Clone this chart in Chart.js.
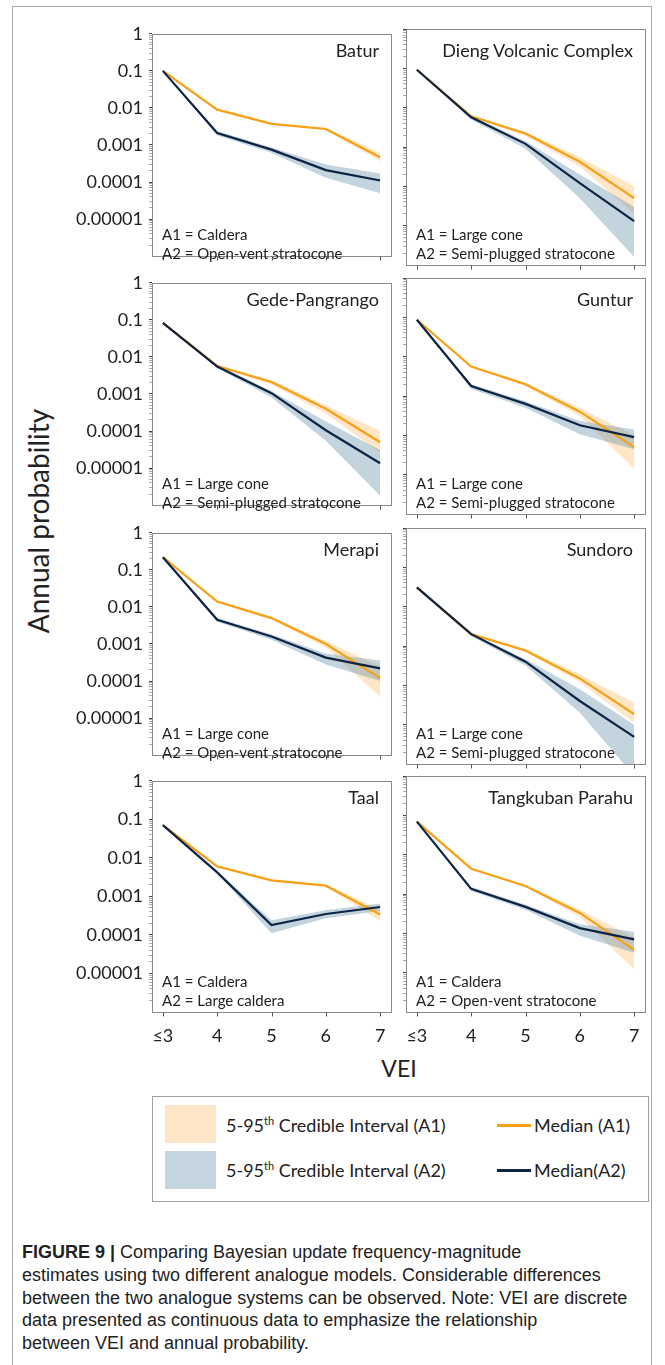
<!DOCTYPE html>
<html>
<head>
<meta charset="utf-8">
<script src="https://cdn.jsdelivr.net/npm/chart.js@4.4.1/dist/chart.umd.min.js"></script>
<style>
  body { margin: 0; background: #fff; }
  #page { position: relative; width: 665px; height: 1365px; overflow: hidden; font-family: Lato, "Open Sans", sans-serif; color: #222; }
  #frame { position: absolute; left: 12px; top: 6px; width: 640px; height: 1400px; border: 1px solid #a8a8a8; box-sizing: border-box; }
  canvas { position: absolute; }
  .title { position: absolute; font-size: 18px; text-align: right; white-space: nowrap; line-height: 1; }
  .note { position: absolute; font-size: 15px; white-space: nowrap; line-height: 19px; }
  #ytitle { position: absolute; left: 38px; top: 521px; transform: translate(-50%, -50%) rotate(-90deg); font-size: 28px; white-space: nowrap; }
  #xtitle { position: absolute; left: 399px; top: 1068px; transform: translate(-50%, -50%); font-size: 23px; }
  #legend { position: absolute; left: 152px; top: 1096px; width: 497px; height: 106px; border: 1px solid #a0a0a0; box-sizing: border-box; }
  .swatch { position: absolute; left: 12px; width: 51px; height: 38px; }
  .ltext { position: absolute; font-size: 18px; white-space: nowrap; transform: translateY(-50%); }
  .ltext sup { font-size: 11px; }
  .lline { position: absolute; left: 344px; width: 34px; height: 3px; }
  #caption { position: absolute; left: 22px; top: 1241px; font-family: "Liberation Sans", Arial, sans-serif; font-size: 18px; line-height: 22.8px; color: #222; white-space: nowrap; }
  #caption b { font-weight: bold; }
</style>
</head>
<body>
<div id="page">
  <div id="frame"></div>
  <div id="ytitle">Annual probability</div>
  <div id="xtitle">VEI</div>
  <div id="legend">
    <div class="swatch" style="top:8px;background:#fde6c7"></div>
    <div class="swatch" style="top:54px;background:#c5d5df"></div>
    <div class="ltext" style="left:73px;top:28px">5-95<sup>th</sup> Credible Interval (A1)</div>
    <div class="ltext" style="left:73px;top:73px">5-95<sup>th</sup> Credible Interval (A2)</div>
    <div class="lline" style="top:27px;background:#f7a014"></div>
    <div class="lline" style="top:72px;background:#0d2444"></div>
    <div class="ltext" style="left:381px;top:28px">Median (A1)</div>
    <div class="ltext" style="left:381px;top:73px">Median(A2)</div>
  </div>
  <div id="caption"><b>FIGURE 9 |</b> Comparing Bayesian update frequency-magnitude<br>estimates using two different analogue models. Considerable differences<br>between the two analogue systems can be observed. Note: VEI are discrete<br>data presented as continuous data to emphasize the relationship<br>between VEI and annual probability.</div>
</div>

<script>
'use strict';

// AXES
const vei = [3, 4, 5, 6, 7];
const veiLabels = ['≤3', '4', '5', '6', '7'];
const probTicks = [1, 0.1, 0.01, 0.001, 0.0001, 0.00001];
const probLabels = ['1', '0.1', '0.01', '0.001', '0.0001', '0.00001'];

// BATUR
const baturA1 = [0.1, 0.009, 0.0037, 0.0027, 0.00047];
const baturA1Lo = [0.097, 0.0085, 0.0035, 0.0025, 0.00036];
const baturA1Hi = [0.103, 0.0095, 0.0039, 0.0029, 0.00062];
const baturA2 = [0.1, 0.0021, 0.00075, 0.00021, 0.00011];
const baturA2Lo = [0.097, 0.0018, 0.00062, 0.00013, 0.00005];
const baturA2Hi = [0.103, 0.0024, 0.00085, 0.0003, 0.00017];

// DIENG VOLCANIC COMPLEX
const diengA1 = [0.092, 0.006, 0.0022, 0.00042, 0.00005];
const diengA1Lo = [0.089, 0.0057, 0.0019, 0.00032, 0.00002];
const diengA1Hi = [0.095, 0.0063, 0.0024, 0.00056, 0.0001];
const diengA2 = [0.092, 0.0057, 0.0012, 0.00012, 0.000013];
const diengA2Lo = [0.089, 0.005, 0.0009, 0.00005, 0.0000016];
const diengA2Hi = [0.095, 0.0062, 0.0014, 0.0002, 0.00003];

// GEDE-PANGRANGO
const gedeA1 = [0.083, 0.0057, 0.0021, 0.0004, 0.00005];
const gedeA1Lo = [0.08, 0.0054, 0.0018, 0.0003, 0.000026];
const gedeA1Hi = [0.086, 0.006, 0.0024, 0.0005, 0.0001];
const gedeA2 = [0.083, 0.0055, 0.00105, 0.000105, 0.0000135];
const gedeA2Lo = [0.08, 0.005, 0.0008, 0.000055, 0.0000018];
const gedeA2Hi = [0.086, 0.006, 0.0012, 0.00018, 0.000031];

// GUNTUR
const gunturA1 = [0.087, 0.0056, 0.002, 0.0004, 0.00005];
const gunturA1Lo = [0.084, 0.0053, 0.0018, 0.00031, 0.000014];
const gunturA1Hi = [0.09, 0.0059, 0.0022, 0.0005, 0.0001];
const gunturA2 = [0.087, 0.0018, 0.00063, 0.00018, 0.00009];
const gunturA2Lo = [0.084, 0.0015, 0.0005, 0.000107, 0.000044];
const gunturA2Hi = [0.09, 0.002, 0.00074, 0.00023, 0.00014];

// MERAPI
const merapiA1 = [0.22, 0.014, 0.005, 0.001, 0.00012];
const merapiA1Lo = [0.21, 0.013, 0.0046, 0.0008, 0.000038];
const merapiA1Hi = [0.23, 0.015, 0.0054, 0.0012, 0.00025];
const merapiA2 = [0.22, 0.0045, 0.0016, 0.00043, 0.00022];
const merapiA2Lo = [0.21, 0.004, 0.0013, 0.00028, 0.0001];
const merapiA2Hi = [0.23, 0.005, 0.0018, 0.00055, 0.00036];

// SUNDORO
const sundoroA1 = [0.031, 0.002, 0.00077, 0.00015, 0.0000185];
const sundoroA1Lo = [0.03, 0.0019, 0.0007, 0.00012, 0.000011];
const sundoroA1Hi = [0.032, 0.0021, 0.00085, 0.00019, 0.000036];
const sundoroA2 = [0.031, 0.002, 0.0004, 0.00004, 0.0000049];
const sundoroA2Lo = [0.03, 0.0018, 0.00032, 0.00002, 0.0000005];
const sundoroA2Hi = [0.032, 0.0021, 0.00046, 0.00008, 0.00001];

// TAAL
const taalA1 = [0.071, 0.006, 0.0026, 0.0019, 0.00034];
const taalA1Lo = [0.069, 0.0058, 0.0025, 0.0018, 0.00023];
const taalA1Hi = [0.073, 0.0062, 0.0027, 0.002, 0.00046];
const taalA2 = [0.071, 0.0042, 0.00018, 0.00035, 0.00053];
const taalA2Lo = [0.069, 0.0039, 0.00011, 0.00027, 0.00042];
const taalA2Hi = [0.073, 0.0045, 0.00024, 0.00044, 0.00065];

// TANGKUBAN PARAHU
const tangkubanA1 = [0.069, 0.0044, 0.0016, 0.00033, 0.000038];
const tangkubanA1Lo = [0.067, 0.0042, 0.0015, 0.00026, 0.000012];
const tangkubanA1Hi = [0.071, 0.0046, 0.0017, 0.0004, 0.00008];
const tangkubanA2 = [0.069, 0.00135, 0.00047, 0.000136, 0.00007];
const tangkubanA2Lo = [0.067, 0.0012, 0.0004, 0.000087, 0.000032];
const tangkubanA2Hi = [0.071, 0.0015, 0.00053, 0.00017, 0.00011];

// PANELS IN READING ORDER (LEFT TO RIGHT, TOP TO BOTTOM)
const panels = [
  { name: 'Batur', a1: 'Caldera', a2: 'Open-vent stratocone', med1: baturA1, lo1: baturA1Lo, hi1: baturA1Hi, med2: baturA2, lo2: baturA2Lo, hi2: baturA2Hi },
  { name: 'Dieng Volcanic Complex', a1: 'Large cone', a2: 'Semi-plugged stratocone', med1: diengA1, lo1: diengA1Lo, hi1: diengA1Hi, med2: diengA2, lo2: diengA2Lo, hi2: diengA2Hi },
  { name: 'Gede-Pangrango', a1: 'Large cone', a2: 'Semi-plugged stratocone', med1: gedeA1, lo1: gedeA1Lo, hi1: gedeA1Hi, med2: gedeA2, lo2: gedeA2Lo, hi2: gedeA2Hi },
  { name: 'Guntur', a1: 'Large cone', a2: 'Semi-plugged stratocone', med1: gunturA1, lo1: gunturA1Lo, hi1: gunturA1Hi, med2: gunturA2, lo2: gunturA2Lo, hi2: gunturA2Hi },
  { name: 'Merapi', a1: 'Large cone', a2: 'Open-vent stratocone', med1: merapiA1, lo1: merapiA1Lo, hi1: merapiA1Hi, med2: merapiA2, lo2: merapiA2Lo, hi2: merapiA2Hi },
  { name: 'Sundoro', a1: 'Large cone', a2: 'Semi-plugged stratocone', med1: sundoroA1, lo1: sundoroA1Lo, hi1: sundoroA1Hi, med2: sundoroA2, lo2: sundoroA2Lo, hi2: sundoroA2Hi },
  { name: 'Taal', a1: 'Caldera', a2: 'Large caldera', med1: taalA1, lo1: taalA1Lo, hi1: taalA1Hi, med2: taalA2, lo2: taalA2Lo, hi2: taalA2Hi },
  { name: 'Tangkuban Parahu', a1: 'Caldera', a2: 'Open-vent stratocone', med1: tangkubanA1, lo1: tangkubanA1Lo, hi1: tangkubanA1Hi, med2: tangkubanA2, lo2: tangkubanA2Lo, hi2: tangkubanA2Hi },
];

// GRID GEOMETRY
const colLeft = [152, 406];
const rowTop = [29, 278, 528, 776];
const PANEL_W = 239;
const PANEL_H = 236;
const PAD_TOP = 12;

const ORANGE = '#f7a014';
const NAVY = '#0d2444';
const BAND_A1 = 'rgba(252, 196, 120, 0.42)';
const BAND_A2 = 'rgba(112, 152, 178, 0.42)';
const INK = '#222';

// MINOR LOG TICKS BETWEEN THE LABELLED DECADES
const minorTicks = [];
for (let e = -6; e < 0; e++) {
  for (let k = 2; k <= 9; k++) minorTicks.push(k * Math.pow(10, e));
}

// BOX AROUND EACH PLOT AREA PLUS THE SHORT VEI TICKS HANGING BELOW IT
const panelFrame = {
  id: 'panelFrame',
  afterDraw(chart) {
    const { ctx, chartArea: a } = chart;
    const xScale = chart.scales.x;
    const bottom = Math.round(a.bottom) + 0.5;
    ctx.save();
    ctx.strokeStyle = '#8a8a8a';
    ctx.lineWidth = 1;
    ctx.strokeRect(Math.round(a.left) + 0.5, Math.round(a.top) + 0.5, Math.round(a.width), Math.round(a.height));
    ctx.strokeStyle = '#555';
    ctx.beginPath();
    vei.forEach((v) => {
      const px = Math.round(xScale.getPixelForValue(v)) + 0.5;
      ctx.moveTo(px, bottom);
      ctx.lineTo(px, bottom + 4);
    });
    ctx.stroke();
    ctx.restore();
  },
};

function pts(arr) {
  return vei.map((x, i) => ({ x, y: arr[i] }));
}

function band(arr, color, order, fill) {
  return { data: pts(arr), borderColor: 'transparent', borderWidth: 0, backgroundColor: color, fill: fill, order: order };
}

function createPanel(p, idx) {
  const col = idx % 2;
  const row = Math.floor(idx / 2);
  const yW = col === 0 ? 80 : 8;
  const xH = row === 3 ? 34 : 8;
  const left = colLeft[col];
  const top = rowTop[row];
  const page = document.querySelector('#page');

  const canvas = document.createElement('canvas');
  canvas.width = yW + PANEL_W + 2;
  canvas.height = PAD_TOP + PANEL_H + xH;
  canvas.style.left = left - yW + 'px';
  canvas.style.top = top - PAD_TOP + 'px';
  page.appendChild(canvas);

  new Chart(canvas, {
    type: 'line',
    data: {
      datasets: [
        band(p.lo1, 'transparent', 5, false),
        band(p.hi1, BAND_A1, 4, '-1'),
        band(p.lo2, 'transparent', 3, false),
        band(p.hi2, BAND_A2, 2, '-1'),
        { data: pts(p.med1), borderColor: ORANGE, borderWidth: 2.2, fill: false, order: 1 },
        { data: pts(p.med2), borderColor: NAVY, borderWidth: 2.2, fill: false, order: 0 },
      ],
    },
    options: {
      responsive: false,
      animation: false,
      layout: { padding: { top: PAD_TOP, right: 2, left: 0, bottom: 0 } },
      elements: { point: { radius: 0 }, line: { tension: 0 } },
      plugins: { legend: { display: false }, tooltip: { enabled: false } },
      scales: {
        x: {
          type: 'linear',
          min: 2.8,
          max: 7.2,
          afterBuildTicks: (s) => { s.ticks = vei.map((v) => ({ value: v })); },
          afterFit: (s) => { s.height = xH; },
          ticks: {
            display: row === 3,
            autoSkip: false,
            maxRotation: 0,
            padding: 5,
            color: INK,
            font: { family: 'Lato', size: 18 },
            callback: (v) => veiLabels[vei.indexOf(v)],
          },
          grid: { display: false },
          border: { display: false },
        },
        y: {
          type: 'logarithmic',
          min: 0.000001,
          max: 1,
          afterBuildTicks: (s) => {
            s.ticks = probTicks.concat(minorTicks).sort((a, b) => a - b).map((v) => ({ value: v }));
          },
          afterFit: (s) => { s.width = yW; },
          ticks: {
            display: col === 0,
            autoSkip: false,
            padding: 6,
            color: INK,
            font: { family: 'Lato', size: 18 },
            callback: (v) => {
              const i = probTicks.findIndex((t) => Math.abs(t - v) / t < 1e-6);
              return i >= 0 ? probLabels[i] : '';
            },
          },
          grid: {
            drawOnChartArea: false,
            tickLength: 3,
            color: (c) => (probTicks.some((t) => Math.abs(t - c.tick.value) / t < 1e-6) ? '#444' : '#aaa'),
          },
          border: { display: false },
        },
      },
    },
    plugins: [panelFrame],
  });

  // PANEL TEXT
  const title = document.createElement('div');
  title.className = 'title';
  title.textContent = p.name;
  title.style.right = 665 - (left + PANEL_W - 12) + 'px';
  title.style.top = top + 12 + 'px';
  page.appendChild(title);

  const note = document.createElement('div');
  note.className = 'note';
  note.innerHTML = `A1 = ${p.a1}<br>A2 = ${p.a2}`;
  note.style.left = left + 10 + 'px';
  note.style.top = top + 196 + 'px';
  page.appendChild(note);
}

panels.forEach(createPanel);
</script>
</body>
</html>
